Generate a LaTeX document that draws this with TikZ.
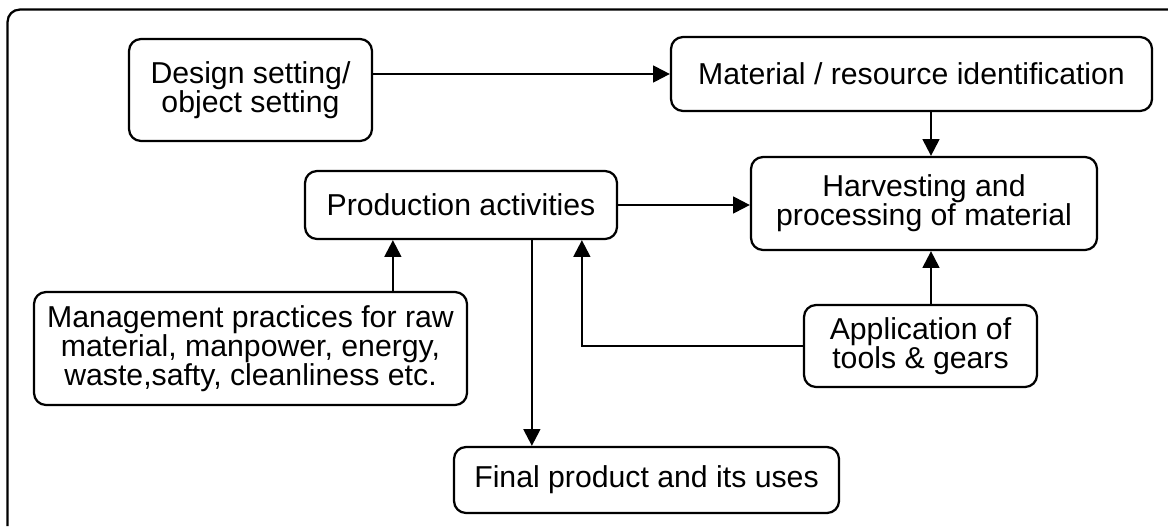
\documentclass[tikz,border=0pt]{standalone}
\usepackage{fontspec}
\setmainfont{Liberation Sans}
\usetikzlibrary{arrows.meta,positioning,calc}

\begin{document}
\begin{tikzpicture}[x=1cm,box/.style={draw,line width=1.6pt,rounded corners=0.3cm,align=center,inner sep=0pt,font=\fontsize{21.5}{20.6}\selectfont},arr/.style={line width=1.6pt,-{Triangle[length=0.42cm,width=0.42cm]}}]
\useasboundingbox (0,0) rectangle (29.2,13.15);
\draw[line width=1.6pt,rounded corners=0.3cm] (0.19,0) |- (29.2,12.91);
\foreach \n/\x/\y/\w/\h/\t in {design/6.2625/10.9/6.075/2.55/{Design setting/\\object setting},
 matid/22.7875/11.3/12.025/1.85/{Material / resource identification},
 harvest/23.1/8.0625/8.65/2.325/{Harvesting and\\processing of material},
 prod/11.525/8.025/7.8/1.7/{Production activities},
 mgmt/6.2625/4.4375/10.825/2.825/{Management practices for raw\\material, manpower, energy,\\waste,safty, cleanliness etc.},
 tools/23.0125/4.5/5.825/2.05/{Application of\\tools \& gears},
 final/16.1625/1.15/9.625/1.65/{Final product and its uses}}
\node[box,minimum width=\w cm,minimum height=\h cm] (\n) at (\x,\y) {\t};
\coordinate (hx) at ([xshift=0.175cm]harvest.north);
\coordinate (mgin) at ([xshift=2.225cm]prod.south west);
\coordinate (fin) at ([xshift=5.7cm]prod.south west);
\coordinate (tin) at ([xshift=6.95cm]prod.south west);
\draw[arr] (design.east |- matid.west) -- (matid.west);
\draw[arr] (hx |- matid.south) -- (hx);
\draw[arr] (prod.east) -- (prod.east -| harvest.west);
\draw[arr] (hx |- tools.north) -- (hx |- harvest.south);
\draw[arr] (mgin |- mgmt.north) -- (mgin);
\draw[arr] (tools.west) -| (tin);
\draw[arr] (fin) -- (fin |- final.north);
\end{tikzpicture}
\end{document}
